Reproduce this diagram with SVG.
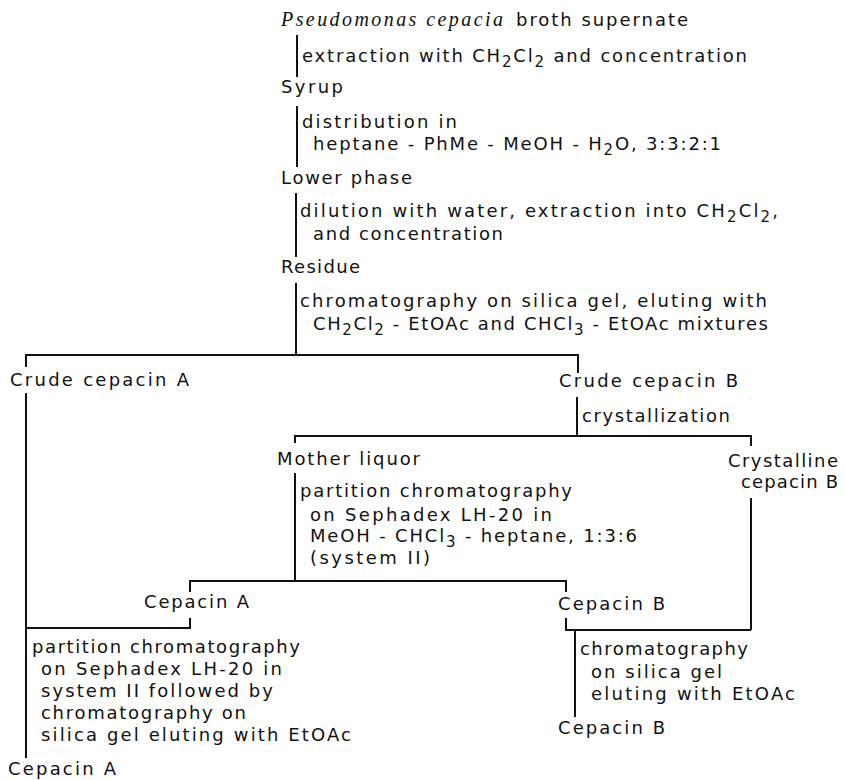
<svg xmlns="http://www.w3.org/2000/svg" width="845" height="780" viewBox="0 0 845 780">
<style>
text{font-family:"DejaVu Sans","Liberation Sans",sans-serif;font-size:18px;fill:#111}
.it{font-family:"Liberation Serif","DejaVu Serif",serif;font-style:italic;font-size:20px}
.sub{font-size:15px}
.ln{fill:none;stroke:#111;stroke-width:2}
</style>
<rect width="845" height="780" fill="#fff"/>
<g id="connectors" class="ln">
<path d="M297 35V77"/>
<path d="M297 106V167"/>
<path d="M296 193V257"/>
<path d="M296 283V355"/>
<path d="M26 367V355H578V373"/>
<path d="M26 393V758"/>
<path d="M577 397V436"/>
<path d="M295 443V436H751V446"/>
<path d="M295 473V581"/>
<path d="M190 592V581H566V592"/>
<path d="M190 618V628H26"/>
<path d="M751 498V630"/>
<path d="M566 618V630H751"/>
<path d="M575 630V717"/>
</g>
<g id="start">
<text class="it" x="281" y="26" textLength="222" lengthAdjust="spacing">Pseudomonas cepacia</text>
<text x="516" y="26" textLength="172" lengthAdjust="spacing">broth supernate</text>
</g>
<g id="step1">
<text x="302" y="62" textLength="445" lengthAdjust="spacing">extraction with CH<tspan class="sub" dy="5">2</tspan><tspan dy="-5">Cl</tspan><tspan class="sub" dy="5">2</tspan><tspan dy="-5"> and concentration</tspan></text>
</g>
<g id="syrup"><text x="281" y="93" textLength="62" lengthAdjust="spacing">Syrup</text></g>
<g id="step2">
<text x="302" y="128" textLength="155" lengthAdjust="spacing">distribution in</text>
<text x="313" y="150" textLength="408" lengthAdjust="spacing">heptane - PhMe - MeOH - H<tspan class="sub" dy="5">2</tspan><tspan dy="-5">O,  3:3:2:1</tspan></text>
</g>
<g id="lower-phase"><text x="281" y="184" textLength="131" lengthAdjust="spacing">Lower phase</text></g>
<g id="step3">
<text x="300" y="217" textLength="478" lengthAdjust="spacing">dilution with water, extraction into CH<tspan class="sub" dy="5">2</tspan><tspan dy="-5">Cl</tspan><tspan class="sub" dy="5">2</tspan><tspan dy="-5">,</tspan></text>
<text x="313" y="240" textLength="190" lengthAdjust="spacing">and concentration</text>
</g>
<g id="residue"><text x="281" y="273" textLength="79" lengthAdjust="spacing">Residue</text></g>
<g id="step4">
<text x="300" y="307" textLength="467" lengthAdjust="spacing">chromatography on silica gel, eluting with</text>
<text x="313" y="330" textLength="455" lengthAdjust="spacing">CH<tspan class="sub" dy="5">2</tspan><tspan dy="-5">Cl</tspan><tspan class="sub" dy="5">2</tspan><tspan dy="-5"> - EtOAc and CHCl</tspan><tspan class="sub" dy="5">3</tspan><tspan dy="-5"> - EtOAc mixtures</tspan></text>
</g>
<g id="crude-a"><text x="10" y="386" textLength="179" lengthAdjust="spacing">Crude cepacin A</text></g>
<g id="crude-b"><text x="559" y="387" textLength="179" lengthAdjust="spacing">Crude cepacin B</text></g>
<g id="step5"><text x="582" y="422" textLength="148" lengthAdjust="spacing">crystallization</text></g>
<g id="mother-liquor"><text x="277" y="465" textLength="143" lengthAdjust="spacing">Mother liquor</text></g>
<g id="crystalline-b">
<text x="728" y="467" textLength="110" lengthAdjust="spacing">Crystalline</text>
<text x="741" y="488" textLength="97" lengthAdjust="spacing">cepacin B</text>
</g>
<g id="step6">
<text x="300" y="497" textLength="272" lengthAdjust="spacing">partition chromatography</text>
<text x="310" y="521" textLength="242" lengthAdjust="spacing">on Sephadex LH-20 in</text>
<text x="310" y="542" textLength="327" lengthAdjust="spacing">MeOH - CHCl<tspan class="sub" dy="5">3</tspan><tspan dy="-5"> - heptane,  1:3:6</tspan></text>
<text x="310" y="564" textLength="120" lengthAdjust="spacing">(system II)</text>
</g>
<g id="cepacin-a1"><text x="144" y="608" textLength="105" lengthAdjust="spacing">Cepacin A</text></g>
<g id="cepacin-b1"><text x="558" y="610" textLength="107" lengthAdjust="spacing">Cepacin B</text></g>
<g id="step7">
<text x="32" y="653" textLength="268" lengthAdjust="spacing">partition chromatography</text>
<text x="41" y="675" textLength="241" lengthAdjust="spacing">on Sephadex LH-20 in</text>
<text x="41" y="697" textLength="232" lengthAdjust="spacing">system II followed by</text>
<text x="41" y="719" textLength="205" lengthAdjust="spacing">chromatography on</text>
<text x="41" y="741" textLength="310" lengthAdjust="spacing">silica gel eluting with EtOAc</text>
</g>
<g id="cepacin-a2"><text x="8" y="775" textLength="108" lengthAdjust="spacing">Cepacin A</text></g>
<g id="step8">
<text x="580" y="655" textLength="168" lengthAdjust="spacing">chromatography</text>
<text x="591" y="678" textLength="131" lengthAdjust="spacing">on silica gel</text>
<text x="591" y="700" textLength="204" lengthAdjust="spacing">eluting with EtOAc</text>
</g>
<g id="cepacin-b2"><text x="558" y="734" textLength="107" lengthAdjust="spacing">Cepacin B</text></g>
</svg>
